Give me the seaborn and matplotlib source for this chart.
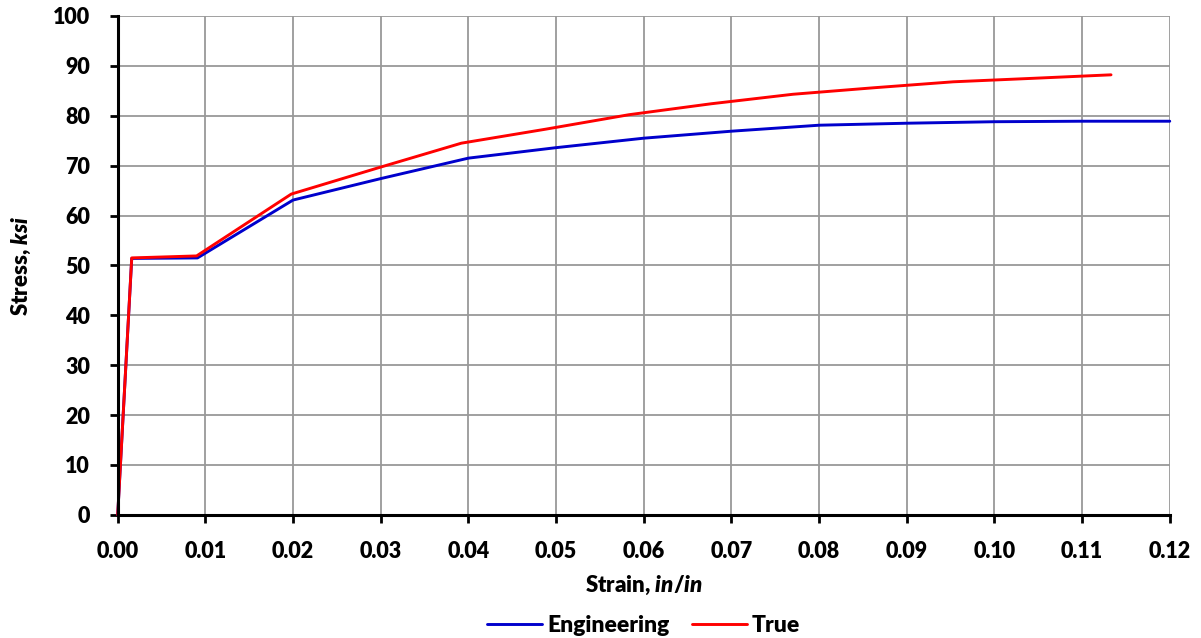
import pandas as pd
import numpy as np
import matplotlib.pyplot as plt
import seaborn as sns

# values
eng_strain = [0.0, 0.0016, 0.0091, 0.020, 0.030, 0.040, 0.050, 0.060, 0.070, 0.080, 0.090, 0.100, 0.110, 0.120]
eng_stress = [0.0, 51.4, 51.5, 63.1, 67.4, 71.5, 73.6, 75.5, 76.9, 78.1, 78.5, 78.8, 78.9, 78.9]

true_strain = [0.0, 0.0016, 0.0090, 0.0198, 0.0296, 0.0392, 0.0488, 0.0583, 0.0677, 0.0770, 0.0862, 0.0953, 0.1044, 0.1133]
true_stress = [0.0, 51.5, 51.9, 64.3, 69.5, 74.5, 77.3, 80.2, 82.4, 84.3, 85.6, 86.8, 87.5, 88.2]

x_ticks = [0.00, 0.01, 0.02, 0.03, 0.04, 0.05, 0.06, 0.07, 0.08, 0.09, 0.10, 0.11, 0.12]
y_ticks = [0, 10, 20, 30, 40, 50, 60, 70, 80, 90, 100]

df = pd.concat([
    pd.DataFrame({"Strain": eng_strain, "Stress": eng_stress, "Curve": "Engineering"}),
    pd.DataFrame({"Strain": true_strain, "Stress": true_stress, "Curve": "True"}),
])

W = 'heavy'  # heavier than Lato "bold" to look like the bold Calibri of the original

sns.set_theme(style="white")
plt.rcParams['font.family'] = ['Lato', 'DejaVu Sans']
plt.rcParams['font.weight'] = W
plt.rcParams['text.color'] = 'black'
plt.rcParams['axes.labelcolor'] = 'black'
plt.rcParams['xtick.color'] = 'black'
plt.rcParams['ytick.color'] = 'black'
plt.rcParams['mathtext.fontset'] = 'custom'
plt.rcParams['mathtext.it'] = 'Lato:italic:heavy'
plt.rcParams['mathtext.rm'] = 'Lato:heavy'

fig = plt.figure(figsize=(12.01, 6.38), dpi=100)
ax = fig.add_axes([0.098, 0.193, 0.876, 0.782])

sns.lineplot(data=df, x="Strain", y="Stress", hue="Curve", sort=False,
             palette={"Engineering": "#0000CC", "True": "#FF0000"},
             linewidth=2.1, ax=ax, estimator=None)
for line in ax.get_lines():
    line.set_clip_on(False)

ax.set_xlim(0, 0.12)
ax.set_ylim(0, 100)
ax.set_xticks(x_ticks)
ax.set_yticks(y_ticks)
ax.set_xticklabels([f"{t:.2f}" for t in x_ticks], fontsize=15.5, fontweight=W)
ax.set_yticklabels([str(t) for t in y_ticks], fontsize=15.5, fontweight=W)
ax.grid(True, color="#999999", linewidth=1.3)
ax.set_axisbelow(True)

for side in ["top", "right"]:
    ax.spines[side].set_visible(False)
for side in ["left", "bottom"]:
    ax.spines[side].set_color("black")
    ax.spines[side].set_linewidth(2.2)
    ax.spines[side].set_zorder(5)

ax.tick_params(axis="both", which="major", direction="out", length=6, width=2,
               color="black", left=True, bottom=True)
ax.tick_params(axis="y", pad=14)
ax.tick_params(axis="x", pad=13)

ax.set_xlabel(r"Strain, $\mathit{in/in}$", fontsize=16, fontweight=W, labelpad=8)
ax.set_ylabel(r"Stress, $\mathit{ksi}$", fontsize=16, fontweight=W, labelpad=14)

leg = ax.legend(loc="upper center", bbox_to_anchor=(0.5, -0.16), ncol=2, frameon=False,
                fontsize=16.5, handlelength=2.4, columnspacing=1.0, handletextpad=0.2)
for t in leg.get_texts():
    t.set_fontweight(W)

plt.savefig("out.png", dpi=100)
plt.close()
